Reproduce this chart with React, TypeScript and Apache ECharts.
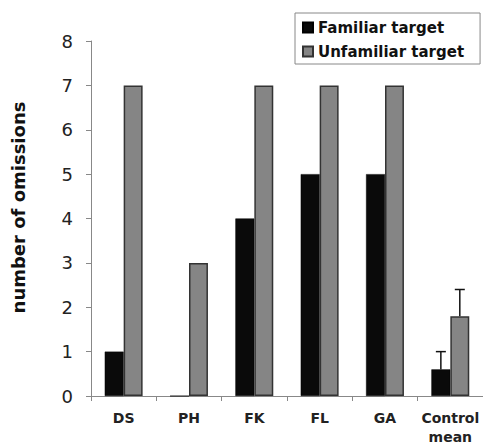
import React, { useEffect, useRef } from "react";
import * as echarts from "echarts";

const categories = ["DS", "PH", "FK", "FL", "GA", "Control\nmean"];
const familiar = [1, 0, 4, 5, 5, 0.6];
const unfamiliar = [7, 3, 7, 7, 7, 1.8];
const familiarErrTop: (number | null)[] = [null, null, null, null, null, 1.0];
const unfamiliarErrTop: (number | null)[] = [null, null, null, null, null, 2.4];
const yTicks = [0, 1, 2, 3, 4, 5, 6, 7, 8];

const BAR_FRAC = 0.29;
const FONT = "DejaVu Sans, Verdana, sans-serif";

function errSeries(name: string, values: number[], tops: (number | null)[], sign: number) {
  const data: number[][] = [];
  tops.forEach((t, i) => {
    if (t != null) data.push([i, values[i], t]);
  });
  return {
    type: "custom",
    name: name + " err",
    data,
    z: 5,
    renderItem: (params: any, api: any) => {
      const idx = api.value(0);
      const base = api.coord([idx, api.value(1)]);
      const top = api.coord([idx, api.value(2)]);
      const bw = api.size([1, 0])[0];
      const cx = base[0] + sign * (BAR_FRAC / 2) * bw;
      const st = { stroke: "#111", lineWidth: 1.5 };
      return {
        type: "group",
        children: [
          { type: "line", shape: { x1: cx, y1: base[1], x2: cx, y2: top[1] }, style: st },
          { type: "line", shape: { x1: cx - 5, y1: top[1], x2: cx + 5, y2: top[1] }, style: st },
        ],
      };
    },
  };
}

export default function App() {
  const ref = useRef<HTMLDivElement>(null);
  useEffect(() => {
    if (!ref.current) return;
    const chart = echarts.init(ref.current, null, { renderer: "svg" });
    chart.setOption({
      animation: false,
      backgroundColor: "#fff",
      grid: { left: 91, right: 0, top: 41, bottom: 52, containLabel: false, outerBoundsMode: "none" },
      legend: {
        data: ["Familiar target", "Unfamiliar target"],
        orient: "vertical",
        left: 295,
        top: 13,
        icon: "rect",
        itemWidth: 10,
        itemHeight: 10,
        itemGap: 9,
        padding: [7, 16, 5, 7],
        backgroundColor: "#fff",
        borderColor: "#888",
        borderWidth: 1,
        borderRadius: 0,
        textStyle: { fontFamily: FONT, fontWeight: "bold", fontSize: 15, color: "#111" },
      },
      xAxis: {
        type: "category",
        data: categories,
        axisLine: { lineStyle: { color: "#888", width: 1 } },
        axisTick: { show: true, length: 5, lineStyle: { color: "#888" } },
        axisLabel: {
          interval: 0,
          hideOverlap: false,
          fontFamily: FONT,
          fontWeight: "bold",
          fontSize: 14,
          color: "#222",
          margin: 12,
          lineHeight: 19,
        },
      },
      yAxis: {
        type: "value",
        min: 0,
        max: 8,
        interval: 1,
        name: "number of omissions",
        nameLocation: "middle",
        nameGap: 64,
        nameTextStyle: {
          fontFamily: FONT,
          fontWeight: "bold",
          fontSize: 18,
          color: "#111",
          padding: [0, 0, 0, 22],
        },
        axisLine: { show: true, lineStyle: { color: "#888", width: 1 } },
        axisTick: { show: true, length: 5, lineStyle: { color: "#888" } },
        splitLine: { show: false },
        axisLabel: {
          fontFamily: FONT,
          fontSize: 18,
          color: "#222",
          margin: 18,
          formatter: (v: number) => (yTicks.includes(v) ? String(v) : ""),
        },
      },
      series: [
        {
          type: "bar",
          name: "Familiar target",
          data: familiar,
          barWidth: BAR_FRAC * 100 + "%",
          barGap: "0%",
          itemStyle: { color: "#0a0a0a", borderColor: "#000", borderWidth: 0.5 },
        },
        {
          type: "bar",
          name: "Unfamiliar target",
          data: unfamiliar,
          barWidth: BAR_FRAC * 100 + "%",
          barGap: "0%",
          itemStyle: { color: "#858585", borderColor: "#333", borderWidth: 1.5 },
        },
        errSeries("Familiar target", familiar, familiarErrTop, -1),
        errSeries("Unfamiliar target", unfamiliar, unfamiliarErrTop, 1),
      ],
    });
    return () => chart.dispose();
  }, []);
  return <div ref={ref} style={{ width: 483, height: 448, position: "absolute", left: 0, top: 0 }} />;
}
